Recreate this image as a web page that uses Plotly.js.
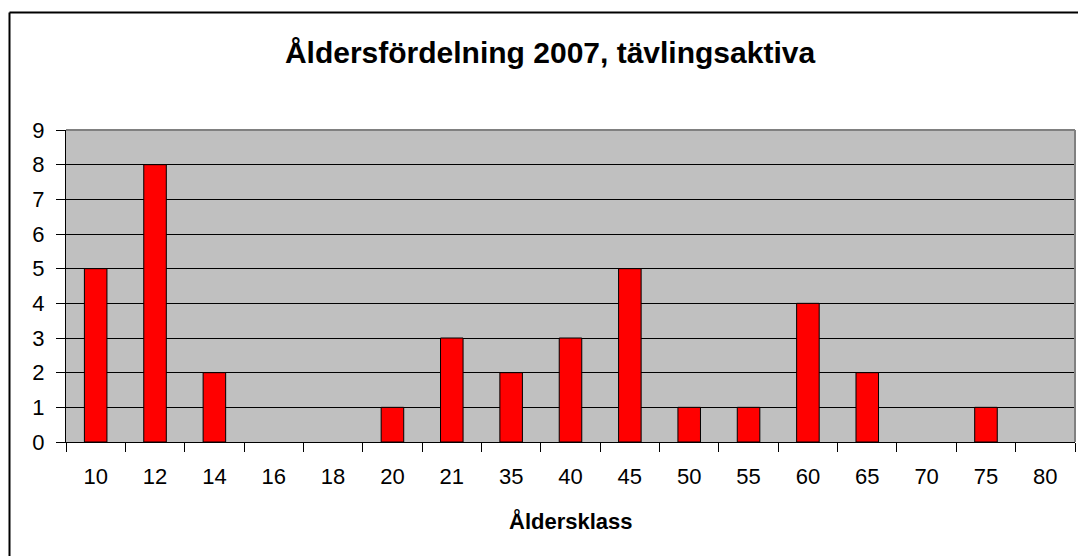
<!DOCTYPE html>
<html>
<head>
<meta charset="utf-8">
<script src="https://cdn.plot.ly/plotly-3.0.1.min.js"></script>
<style>
html,body{margin:0;padding:0;background:#fff;}
#chart{width:1078px;height:556px;}
</style>
</head>
<body>
<div id="chart"></div>
<script>
const categories = ["10","12","14","16","18","20","21","35","40","45","50","55","60","65","70","75","80"];
const counts = [5,8,2,0,0,1,3,2,3,5,1,1,4,2,0,1,0];
const titleText = "Åldersfördelning 2007, tävlingsaktiva";
const xTitle = "Åldersklass";

const W = 1078, H = 556;
const m = {l:66, r:3, t:130, b:114};
const pw = W - m.l - m.r, ph = H - m.t - m.b;
const px = x => (x - m.l) / pw;
const py = y => (H - m.b - y) / ph;

const font = "Liberation Sans, Arial, sans-serif";

const trace = {
  type: "bar",
  x: categories,
  y: counts.map(v => (v === 0 ? null : v)),
  marker: {color: "#FF0000", line: {color: "#000000", width: 1}},
  hoverinfo: "x+y"
};

const layout = {
  width: W, height: H,
  margin: m,
  paper_bgcolor: "#FFFFFF",
  plot_bgcolor: "#C0C0C0",
  bargap: 0.62,
  showlegend: false,
  font: {family: font, color: "#000000", size: 22},
  title: {
    text: "<b>" + titleText + "</b>",
    font: {family: font, size: 30, color: "#000000"},
    xref: "container", yref: "container",
    x: 550 / W, xanchor: "center",
    y: 1 - 52 / H, yanchor: "middle"
  },
  xaxis: {
    type: "category",
    tickson: "boundaries",
    ticks: "outside", ticklen: 9, tickcolor: "#000000", tickwidth: 1,
    showline: true, linecolor: "#000000", linewidth: 1,
    showgrid: false,
    tickfont: {family: font, size: 22, color: "#000000"},
    ticklabelstandoff: 15,
    fixedrange: true
  },
  yaxis: {
    range: [0, 9],
    dtick: 1,
    ticks: "outside", ticklen: 9, tickcolor: "#000000", tickwidth: 1,
    showline: true, linecolor: "#000000", linewidth: 1,
    showgrid: true, gridcolor: "#000000", gridwidth: 1,
    zeroline: false,
    tickfont: {family: font, size: 22, color: "#000000"},
    ticklabelstandoff: 7,
    fixedrange: true
  },
  annotations: [
    {
      text: "<b>" + xTitle + "</b>",
      xref: "paper", yref: "paper",
      x: 0.5, y: py(521),
      xanchor: "center", yanchor: "middle",
      showarrow: false,
      font: {family: font, size: 22, color: "#000000"}
    }
  ],
  shapes: [
    {type: "line", xref: "paper", yref: "paper", x0: 0, x1: 1, y0: 1, y1: 1, line: {color: "#808080", width: 2}},
    {type: "line", xref: "paper", yref: "paper", x0: 1, x1: 1, y0: 0, y1: 1, line: {color: "#808080", width: 2}},
    {type: "line", xref: "paper", yref: "paper", x0: px(9.5), x1: px(1100), y0: py(12.5), y1: py(12.5), line: {color: "#000000", width: 2}},
    {type: "line", xref: "paper", yref: "paper", x0: px(9.5), x1: px(9.5), y0: py(12.5), y1: py(600), line: {color: "#000000", width: 2}}
  ]
};

Plotly.newPlot("chart", [trace], layout, {displayModeBar: false, staticPlot: true});
</script>
</body>
</html>
